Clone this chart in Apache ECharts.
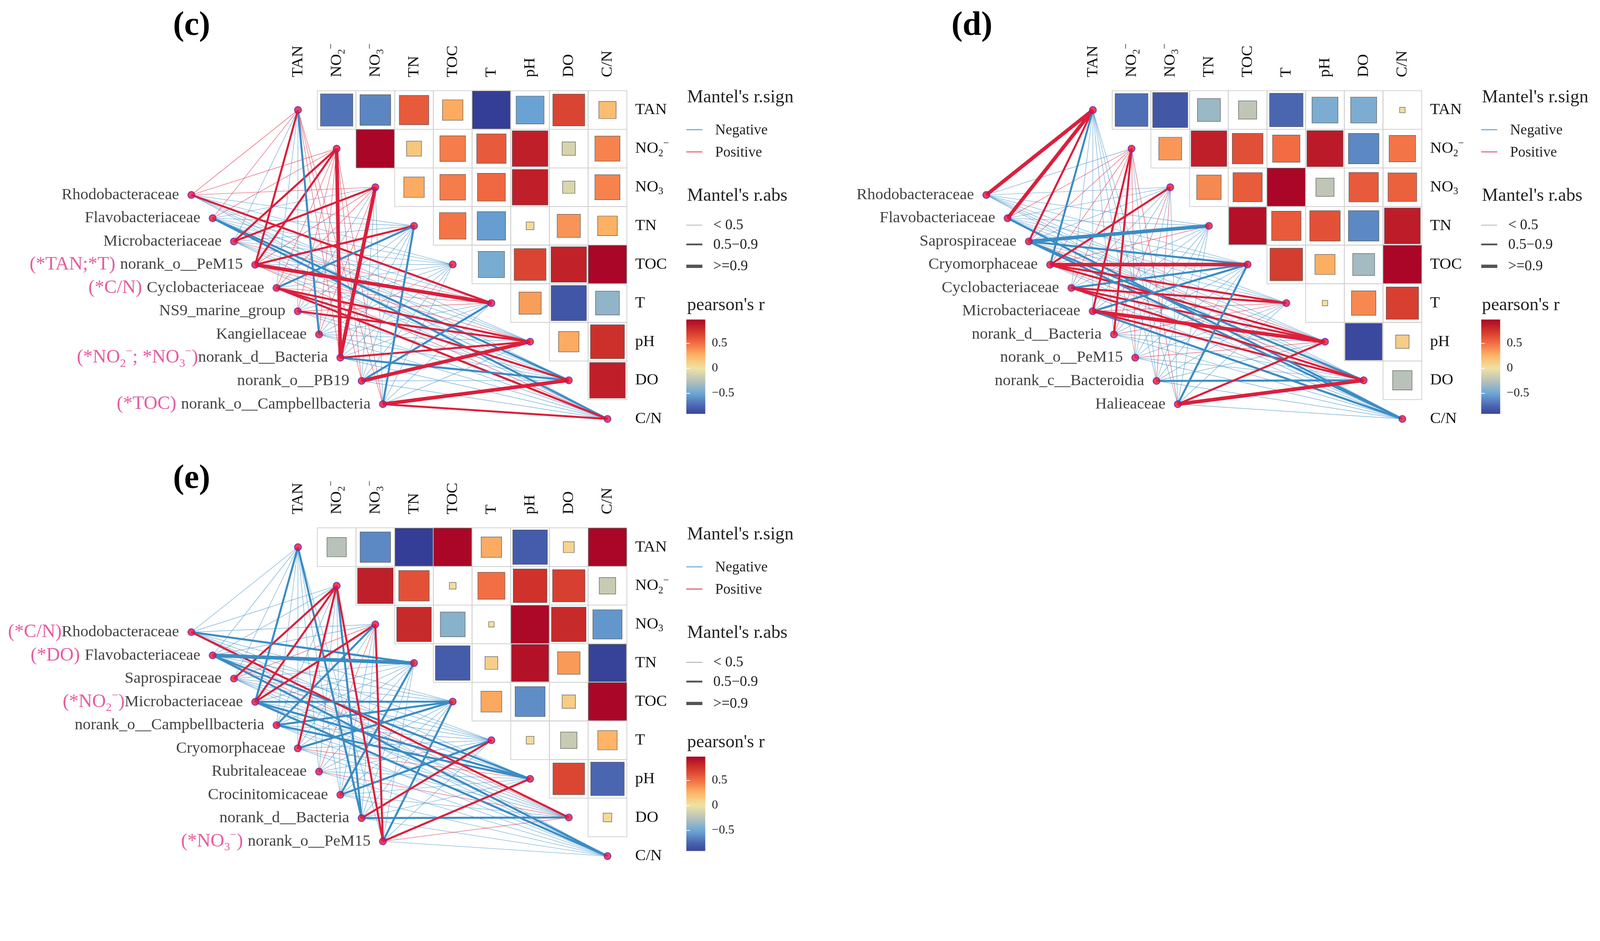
<!DOCTYPE html>
<html><head><meta charset="utf-8">
<script src="https://cdn.jsdelivr.net/npm/echarts@6/dist/echarts.min.js"></script>
<style>html,body{margin:0;padding:0;background:#fff;overflow:hidden}#chart{width:100vw;height:100vh}</style>
</head><body><div id="chart"></div>
<script>
// ---------------- DATA ----------------
const envColLabels = ['TAN', 'NO₂⁻', 'NO₃⁻', 'TN', 'TOC', 'T', 'pH', 'DO', 'C/N'];
const envRowLabels = ['TAN', 'NO₂⁻', 'NO₃', 'TN', 'TOC', 'T', 'pH', 'DO', 'C/N'];
const colorbarTicks = [-0.5, 0, 0.5];
const colorbarRange = [-0.91, 0.97];
const absLegend = ['< 0.5', '0.5−0.9', '>=0.9'];
const signLegend = ['Negative', 'Positive'];

// panel (c)
const speciesC = ['Rhodobacteraceae', 'Flavobacteriaceae', 'Microbacteriaceae', 'norank_o__PeM15', 'Cyclobacteriaceae',
  'NS9_marine_group', 'Kangiellaceae', 'norank_d__Bacteria', 'norank_o__PB19', 'norank_o__Campbellbacteria'];
const annotC = ['', '', '', '(*TAN;*T) ', '(*C/N) ', '', '', '(*NO₂⁻; *NO₃⁻)', '', '(*TOC) '];
const corrC = [
  [-0.70, -0.63, 0.58, 0.28, -0.95, -0.52, 0.68, 0.20],
  [0.97, 0.15, 0.44, 0.58, 0.85, -0.12, 0.42],
  [0.28, 0.44, 0.52, 0.85, -0.10, 0.42],
  [0.47, -0.54, 0.04, 0.36, 0.26],
  [-0.46, 0.68, 0.84, 0.97],
  [0.33, -0.83, -0.38],
  [0.28, 0.77],
  [0.85]
];
// Mantel's r: rows = species, cols = TAN, NO2, NO3, TN, TOC, T, pH, DO, C/N
const mantelC = [
  [0.30, 0.25, 0.30, -0.20, -0.25, 0.60, -0.30, -0.20, -0.15],
  [0.20, 0.30, -0.20, -0.25, -0.30, -0.30, -0.35, -0.55, -0.50],
  [-0.20, 0.60, 0.65, -0.20, -0.25, 0.30, -0.30, -0.20, -0.25],
  [0.60, 0.55, 0.30, 0.55, -0.20, 0.92, 0.30, -0.25, 0.20],
  [-0.20, 0.25, 0.20, -0.60, -0.30, 0.30, 0.75, 0.60, 0.55],
  [-0.15, 0.20, -0.20, -0.25, -0.20, 0.30, 0.55, -0.30, -0.20],
  [-0.60, 0.20, 0.25, -0.20, -0.25, -0.30, -0.20, -0.30, -0.20],
  [0.30, 0.95, 0.92, -0.20, -0.25, -0.30, 0.60, -0.55, -0.30],
  [0.20, 0.30, -0.20, -0.25, -0.30, -0.55, 0.90, -0.30, -0.20],
  [0.20, 0.25, -0.20, -0.60, -0.30, -0.25, -0.30, 0.92, 0.60]
];

// panel (d)
const speciesD = ['Rhodobacteraceae', 'Flavobacteriaceae', 'Saprospiraceae', 'Cryomorphaceae', 'Cyclobacteriaceae',
  'Microbacteriaceae', 'norank_d__Bacteria', 'norank_o__PeM15', 'norank_c__Bacteroidia', 'Halieaceae'];
const annotD = ['', '', '', '', '', '', '', '', '', ''];
const corrD = [
  [-0.72, -0.82, -0.35, -0.22, -0.75, -0.45, -0.45, 0.02],
  [0.35, 0.85, 0.63, 0.50, 0.87, -0.62, 0.47],
  [0.40, 0.57, 0.97, -0.22, 0.58, 0.55],
  [0.92, 0.58, 0.62, -0.62, 0.86],
  [0.71, 0.27, -0.32, 0.97],
  [0.02, 0.40, 0.70],
  [-0.90, 0.12],
  [-0.25]
];
const mantelD = [
  [0.92, -0.20, -0.25, -0.20, -0.25, -0.20, -0.30, -0.25, -0.20],
  [0.92, 0.30, -0.20, -0.25, -0.30, -0.30, -0.30, -0.40, -0.60],
  [0.60, 0.25, -0.20, -0.92, -0.60, -0.30, 0.30, -0.55, -0.60],
  [-0.60, 0.30, 0.60, 0.30, 0.90, 0.60, 0.55, 0.30, -0.30],
  [-0.20, 0.25, -0.20, -0.30, -0.60, 0.60, 0.55, 0.60, -0.30],
  [-0.20, 0.60, -0.25, -0.30, -0.60, 0.30, 0.90, 0.55, -0.60],
  [-0.20, 0.60, 0.25, -0.25, -0.30, 0.30, -0.25, -0.30, -0.20],
  [-0.15, 0.20, -0.20, -0.20, -0.25, -0.20, 0.30, -0.25, -0.20],
  [-0.20, -0.20, 0.25, -0.20, -0.25, -0.20, -0.30, -0.60, -0.30],
  [-0.20, 0.30, -0.20, -0.25, -0.60, -0.30, 0.60, 0.95, -0.30]
];

// panel (e)
const speciesE = ['Rhodobacteraceae', 'Flavobacteriaceae', 'Saprospiraceae', 'Microbacteriaceae', 'norank_o__Campbellbacteria',
  'Cryomorphaceae', 'Rubritaleaceae', 'Crocinitomicaceae', 'norank_d__Bacteria', 'norank_o__PeM15'];
const annotE = ['(*C/N)', '(*DO) ', '', '(*NO₂⁻)', '', '', '', '', '', '(*NO₃⁻) '];
const corrE = [
  [-0.25, -0.62, -0.95, 0.97, 0.28, -0.80, 0.08, 0.97],
  [0.85, 0.62, 0.03, 0.49, 0.76, 0.70, -0.18],
  [0.80, -0.41, 0.02, 0.96, 0.80, -0.57],
  [-0.80, 0.11, 0.92, 0.34, -0.93],
  [0.29, -0.60, 0.12, 0.97],
  [0.04, -0.18, 0.25],
  [0.67, -0.75],
  [0.05]
];
const mantelE = [
  [-0.20, -0.25, -0.20, -0.60, -0.25, -0.30, -0.30, 0.60, -0.30],
  [-0.20, -0.25, -0.30, -0.92, -0.30, -0.30, -0.55, 0.30, -0.55],
  [-0.20, 0.60, 0.25, -0.25, -0.30, -0.30, -0.25, -0.20, -0.30],
  [-0.60, 0.60, 0.60, -0.30, -0.60, -0.30, -0.55, -0.25, -0.55],
  [-0.20, -0.25, -0.60, -0.30, -0.55, -0.30, -0.50, -0.25, -0.20],
  [-0.15, 0.60, -0.20, -0.25, -0.60, -0.30, 0.25, -0.30, -0.20],
  [-0.15, -0.20, 0.20, -0.20, -0.25, -0.30, -0.25, 0.25, -0.20],
  [-0.20, -0.25, -0.30, -0.60, -0.30, -0.55, -0.25, -0.30, -0.25],
  [-0.55, -0.55, -0.25, -0.30, -0.25, 0.60, -0.30, -0.60, -0.30],
  [-0.20, 0.60, 0.60, -0.25, -0.55, -0.30, 0.60, 0.30, -0.30]
];

// ---------------- STYLE / LAYOUT ----------------
const S = Math.min(window.innerWidth / 4392, window.innerHeight / 2409) || 1;
const z = v => v * S;
const FONT = '"Liberation Serif", "Times New Roman", "DejaVu Serif", serif';
const PAL = ['#2F3490', '#4A66B0', '#6DA8D6', '#B9C2B9', '#F0E3A3', '#FDB466', '#F26C43', '#D0342B', '#A50026'];
const POS_COL = '#DC1F3C', NEG_COL = '#3A8DC4';
const CELL_W = 106.2, CELL_H = 106;
// species node layout (in cell units), linkET-like staggered column
const spCol = i => -2.755 + 0.55 * i;
const spRow = i => 2.2 + 0.602 * i;

const panels = [
  { species: speciesC, annot: annotC, corr: corrC, mantel: mantelC, colLeft: 871, top: 249, title: '(c)', tx: 526, ty: 72, dx: 0, dy: 0 },
  { species: speciesD, annot: annotD, corr: corrD, mantel: mantelD, colLeft: 3053, top: 249, title: '(d)', tx: 2668, ty: 72, dx: 2182, dy: 0 },
  { species: speciesE, annot: annotE, corr: corrE, mantel: mantelE, colLeft: 871, top: 1449, title: '(e)', tx: 526, ty: 1316, dx: 0, dy: 1200 }
];

// convert sub/superscript characters into rich-text tokens
function richify(str, base) {
  let out = '', buf = '';
  const flush = () => { if (buf) { out += '{' + base + '|' + buf + '}'; buf = ''; } };
  for (const ch of str) {
    if (ch === '₂' || ch === '₃') { flush(); out += '{' + base + 'Sub|' + (ch === '₂' ? '2' : '3') + '}'; }
    else if (ch === '⁻') { flush(); out += '{' + base + 'Sup|−}'; }
    else buf += ch;
  }
  flush();
  return out;
}
function richSet(base, size, color) {
  const o = {};
  o[base] = { fontSize: z(size), fontFamily: FONT, color: color, lineHeight: z(size * 1.15) };
  o[base + 'Sub'] = { fontSize: z(size * 0.62), fontFamily: FONT, color: color, verticalAlign: 'bottom', lineHeight: z(size * 1.0) };
  o[base + 'Sup'] = { fontSize: z(size * 0.62), fontFamily: FONT, color: color, verticalAlign: 'top', lineHeight: z(size * 1.25) };
  return o;
}

function hexRgb(h) { return [parseInt(h.slice(1, 3), 16), parseInt(h.slice(3, 5), 16), parseInt(h.slice(5, 7), 16)]; }
function palColor(v) {
  const t = Math.max(0, Math.min(1, (v + 1) / 2)) * (PAL.length - 1);
  const k = Math.min(PAL.length - 2, Math.floor(t)), f = t - k;
  const a = hexRgb(PAL[k]), b = hexRgb(PAL[k + 1]);
  return 'rgb(' + a.map((x, n) => Math.round(x + (b[n] - x) * f)).join(',') + ')';
}
const idx9 = [0, 1, 2, 3, 4, 5, 6, 7, 8];

const grid = [], xAxis = [], yAxis = [], series = [], graphic = [], cellSeriesIdx = [];

panels.forEach((P, p) => {
  grid.push({ left: z(P.colLeft - 4 * CELL_W), top: z(P.top), width: z(12 * CELL_W), height: z(9 * CELL_H) });
  xAxis.push({
    gridIndex: p, type: 'value', min: -3.5, max: 8.5, position: 'top',
    axisLine: { show: false }, axisTick: { show: false }, splitLine: { show: false },
    axisLabel: { customValues: idx9, formatter: v => richify(envColLabels[Math.round(v)], 'a'), rotate: 90, margin: z(37),
      rich: richSet('a', 44, '#111') }
  });
  yAxis.push({
    gridIndex: p, type: 'value', min: -0.5, max: 8.5, inverse: true, position: 'right',
    axisLine: { show: false }, axisTick: { show: false }, splitLine: { show: false },
    axisLabel: { customValues: idx9, formatter: v => richify(envRowLabels[Math.round(v)], 'a'), margin: z(23),
      rich: richSet('a', 44, '#111') }
  });
});
// colorbar grids
panels.forEach((P, p) => {
  grid.push({ left: z(1884 + P.dx), top: z(877 + P.dy), width: z(52), height: z(259) });
  xAxis.push({ gridIndex: 3 + p, type: 'value', min: 0, max: 1, show: false });
});
panels.forEach((P, p) => {
  yAxis.push({
    gridIndex: 3 + p, type: 'value', min: colorbarRange[0], max: colorbarRange[1], position: 'right', z: 10,
    axisLine: { show: false }, splitLine: { show: false },
    axisTick: { show: true, inside: true, length: z(10), customValues: colorbarTicks, lineStyle: { color: '#fff', width: z(2) } },
    axisLabel: { customValues: colorbarTicks, margin: z(18), fontSize: z(34), fontFamily: FONT, color: '#222',
      formatter: v => (v < 0 ? '−' + Math.abs(v) : String(v)) }
  });
});
panels.forEach((P, p) => {
  yAxis.push({
    gridIndex: 3 + p, type: 'value', min: colorbarRange[0], max: colorbarRange[1], position: 'left', z: 10,
    axisLine: { show: false }, splitLine: { show: false }, axisLabel: { show: false },
    axisTick: { show: true, inside: true, length: z(10), customValues: colorbarTicks, lineStyle: { color: '#fff', width: z(2) } }
  });
});

panels.forEach((P, p) => {
  // links (Mantel)
  const links = [];
  P.mantel.forEach((row, i) => row.forEach((r, j) => links.push([i, j, r])));
  links.sort((a, b) => Math.abs(a[2]) - Math.abs(b[2]));
  series.push({
    type: 'custom', xAxisIndex: p, yAxisIndex: p, z: 2, clip: false, silent: true,
    data: links,
    renderItem: (params, api) => {
      const i = api.value(0), j = api.value(1), r = api.value(2), a = Math.abs(r);
      const p0 = api.coord([spCol(i), spRow(i)]), p1 = api.coord([j, j]);
      const w = a >= 0.9 ? 10 : (a >= 0.5 ? 5.5 : 1.5);
      return { type: 'line', shape: { x1: p0[0], y1: p0[1], x2: p1[0], y2: p1[1] },
        style: { stroke: r >= 0 ? POS_COL : NEG_COL, lineWidth: z(w), opacity: a >= 0.5 ? 1 : 0.65, lineCap: 'butt' } };
    }
  });
  // correlation cells
  const cells = [];
  P.corr.forEach((row, i) => row.forEach((r, k) => cells.push([i + 1 + k, i, r])));
  cellSeriesIdx.push(series.length);
  series.push({
    type: 'custom', xAxisIndex: p, yAxisIndex: p, z: 3, silent: true,
    data: cells,
    renderItem: (params, api) => {
      const c = api.coord([api.value(0), api.value(1)]);
      const s = api.size([1, 1]); const sw = Math.abs(s[0]), sh = Math.abs(s[1]);
      const f = Math.sqrt(Math.abs(api.value(2)));
      return { type: 'group', children: [
        { type: 'rect', shape: { x: c[0] - sw / 2, y: c[1] - sh / 2, width: sw, height: sh },
          style: { fill: 'none', stroke: '#D2D2D2', lineWidth: z(2.2) } },
        { type: 'rect', shape: { x: c[0] - f * sw / 2, y: c[1] - f * sh / 2, width: f * sw, height: f * sh },
          style: { fill: api.visual('color'), stroke: '#5a5a5a', lineWidth: z(1.3) } }
      ] };
    }
  });
  // env nodes on diagonal
  series.push({
    type: 'scatter', xAxisIndex: p, yAxisIndex: p, z: 5, silent: true, clip: false,
    data: idx9.map(j => [j, j]), symbolSize: z(19),
    itemStyle: { color: '#F2102E', borderColor: '#5B2BB5', borderWidth: z(2.5) }
  });
  // species nodes
  series.push({
    type: 'scatter', xAxisIndex: p, yAxisIndex: p, z: 5, silent: true, clip: false,
    data: P.species.map((name, i) => ({ value: [spCol(i), spRow(i)], name: name, annot: P.annot[i] })),
    symbolSize: z(19),
    itemStyle: { color: '#F2102E', borderColor: '#5B2BB5', borderWidth: z(2.5) },
    label: {
      show: true, position: 'left', distance: z(23),
      formatter: prm => (prm.data.annot ? richify(prm.data.annot, 'p') : '') + '{n|' + prm.name + '}',
      rich: Object.assign({ n: { fontSize: z(44), fontFamily: FONT, color: '#111', lineHeight: z(52) } }, richSet('p', 52, '#E0338A'))
    }
  });
});
// colorbars
panels.forEach((P, p) => {
  series.push({
    type: 'custom', xAxisIndex: 3 + p, yAxisIndex: 3 + p, z: 2, silent: true,
    data: [[0, colorbarRange[0], 1, colorbarRange[1]]],
    renderItem: (params, api) => {
      const a = api.coord([api.value(0), api.value(3)]), b = api.coord([api.value(2), api.value(1)]);
      const stops = [];
      for (let k = 0; k <= 40; k++) {
        const t = k / 40;
        stops.push({ offset: t, color: palColor(colorbarRange[1] - t * (colorbarRange[1] - colorbarRange[0])) });
      }
      return { type: 'rect', shape: { x: a[0], y: a[1], width: b[0] - a[0], height: b[1] - a[1] },
        style: { fill: new echarts.graphic.LinearGradient(0, 0, 0, 1, stops) } };
    }
  });
});

// titles + legends
panels.forEach(P => {
  const dx = P.dx, dy = P.dy;
  graphic.push({ type: 'text', x: z(P.tx), y: z(P.ty), style: { text: P.title, font: 'bold ' + z(92) + 'px ' + FONT, fill: '#000', textAlign: 'center', textVerticalAlign: 'middle' } });
  const txt = (t, x, y, size) => ({ type: 'text', x: z(x + dx), y: z(y + dy), style: { text: t, font: z(size) + 'px ' + FONT, fill: '#222', textAlign: 'left', textVerticalAlign: 'middle' } });
  const ln = (y, col, w, op) => ({ type: 'line', shape: { x1: z(1884 + dx), y1: z(y + dy), x2: z(1928 + dx), y2: z(y + dy) }, style: { stroke: col, lineWidth: z(w), opacity: op } });
  graphic.push(txt("Mantel's r.sign", 1886, 268, 50));
  graphic.push(ln(356, NEG_COL, 3, 0.7), txt(signLegend[0], 1963, 358, 40));
  graphic.push(ln(417, POS_COL, 3, 0.7), txt(signLegend[1], 1963, 419, 40));
  graphic.push(txt("Mantel's r.abs", 1886, 538, 50));
  graphic.push(ln(618, '#8a8a8a', 1.5, 1), txt(absLegend[0], 1958, 619, 40));
  graphic.push(ln(671, '#555555', 5, 1), txt(absLegend[1], 1958, 672, 40));
  graphic.push(ln(731, '#555555', 9, 1), txt(absLegend[2], 1958, 732, 40));
  graphic.push(txt("pearson's r", 1886, 838, 50));
});

const chart = echarts.init(document.getElementById('chart'), null, { renderer: 'canvas' });
chart.setOption({
  backgroundColor: '#ffffff',
  animation: false,
  grid, xAxis, yAxis, series, graphic,
  visualMap: [{ type: 'continuous', show: false, min: -1, max: 1, dimension: 2, seriesIndex: cellSeriesIdx, inRange: { color: PAL } }]
});
</script></body></html>
